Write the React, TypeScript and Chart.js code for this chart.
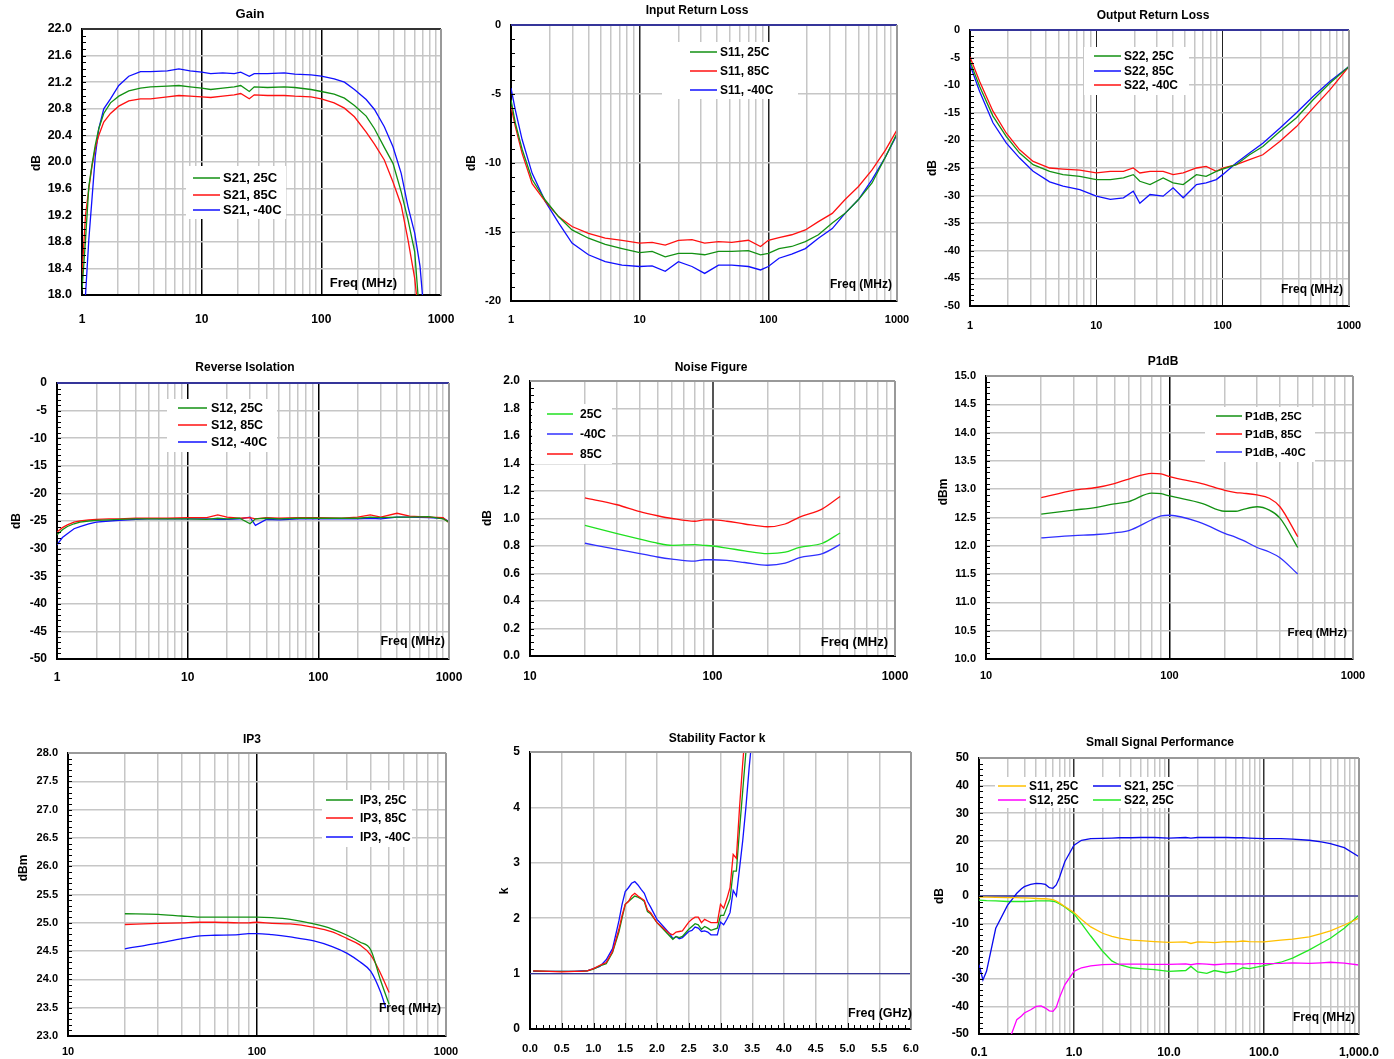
import { useEffect, useRef } from "react"
import { Chart, registerables } from "chart.js"

Chart.register(...registerables)

const FONT = "'Liberation Sans', Arial, sans-serif"
Chart.defaults.font.family = FONT

const W = 1394
const H = 1059
const Y_AXIS_W = 46
const X_AXIS_H = 40

// ---------- axis ticks ----------
const mhzDecades = [1, 10, 100, 1000]
const mhzLabels = ["1", "10", "100", "1000"]
const mhzDecades10 = [10, 100, 1000]
const mhzLabels10 = ["10", "100", "1000"]
const ssDecades = [0.1, 1, 10, 100, 1000]
const ssLabels = ["0.1", "1.0", "10.0", "100.0", "1,000.0"]
const ghzTicks = [0, 0.5, 1, 1.5, 2, 2.5, 3, 3.5, 4, 4.5, 5, 5.5, 6]
const ghzLabels = ["0.0", "0.5", "1.0", "1.5", "2.0", "2.5", "3.0", "3.5", "4.0", "4.5", "5.0", "5.5", "6.0"]

const gainTicks = [18, 18.4, 18.8, 19.2, 19.6, 20, 20.4, 20.8, 21.2, 21.6, 22]
const irlTicks = [-20, -15, -10, -5, 0]
const dB50Ticks = [-50, -45, -40, -35, -30, -25, -20, -15, -10, -5, 0]
const nfTicks = [0, 0.2, 0.4, 0.6, 0.8, 1.0, 1.2, 1.4, 1.6, 1.8, 2.0]
const p1Ticks = [10, 10.5, 11, 11.5, 12, 12.5, 13, 13.5, 14, 14.5, 15]
const ip3Ticks = [23, 23.5, 24, 24.5, 25, 25.5, 26, 26.5, 27, 27.5, 28]
const kTicks = [0, 1, 2, 3, 4, 5]
const ssTicks = [-50, -40, -30, -20, -10, 0, 10, 20, 30, 40, 50]

// ---------- Gain ----------
const gainFreq = [1.0, 1.07, 1.14, 1.21, 1.29, 1.38, 1.52, 1.73, 2.03, 2.46, 3.08, 3.74, 5.17, 6.45, 8.0, 10, 11.9, 15, 18.7, 21.2, 25, 27.5, 35.5, 49, 60, 82, 100, 128, 156, 189, 237, 278, 336, 397, 465, 530, 603, 668, 700]
const gain25 = [18.07, 18.83, 19.63, 19.95, 20.25, 20.5, 20.73, 20.89, 20.99, 21.07, 21.11, 21.13, 21.14, 21.15, 21.13, 21.11, 21.09, 21.11, 21.13, 21.15, 21.06, 21.13, 21.12, 21.13, 21.12, 21.09, 21.06, 21.02, 20.96, 20.85, 20.69, 20.5, 20.22, 19.98, 19.55, 19.13, 18.65, 17.6, 17.0]
const gain85 = [18.3, 19.2, 19.6, 19.93, 20.2, 20.4, 20.6, 20.73, 20.84, 20.92, 20.95, 20.95, 20.98, 21.0, 20.99, 20.98, 20.97, 20.99, 21.01, 21.03, 20.95, 21.01, 21.0, 21.0, 20.99, 20.98, 20.95, 20.89, 20.81, 20.68, 20.45, 20.27, 20.03, 19.7, 19.35, 18.83, 18.25, 17.5, 17.0]
const gainM40 = [17.2, 18.0, 18.83, 19.43, 20.08, 20.5, 20.8, 20.95, 21.15, 21.29, 21.36, 21.36, 21.37, 21.4, 21.37, 21.35, 21.33, 21.34, 21.33, 21.35, 21.29, 21.33, 21.33, 21.34, 21.32, 21.31, 21.29, 21.25, 21.2, 21.09, 20.94, 20.79, 20.53, 20.23, 19.83, 19.33, 18.93, 18.43, 18.0]

// ---------- Input Return Loss ----------
const irlFreq = [1, 1.08, 1.22, 1.46, 1.85, 2.35, 2.98, 4.0, 5.4, 7.3, 10, 12.5, 15.8, 20, 25.5, 32, 41, 52, 70, 87, 100, 121, 152, 194, 245, 314, 395, 502, 640, 815, 1000]
const s11_25 = [-5.42, -7.1, -9.0, -11.2, -12.7, -13.9, -14.85, -15.45, -15.9, -16.2, -16.5, -16.4, -16.8, -16.55, -16.55, -16.65, -16.4, -16.4, -16.35, -16.65, -16.55, -16.2, -16.05, -15.7, -15.2, -14.35, -13.65, -12.65, -11.45, -9.55, -7.85]
const s11_85 = [-5.9, -7.35, -9.3, -11.5, -12.8, -13.9, -14.6, -15.1, -15.45, -15.6, -15.8, -15.75, -15.95, -15.6, -15.55, -15.8, -15.7, -15.75, -15.6, -16.05, -15.6, -15.4, -15.2, -14.85, -14.25, -13.65, -12.65, -11.7, -10.5, -9.05, -7.6]
const s11_m40 = [-4.57, -6.15, -8.3, -10.75, -12.8, -14.35, -15.8, -16.65, -17.15, -17.4, -17.5, -17.45, -17.85, -17.15, -17.5, -18.0, -17.4, -17.4, -17.5, -17.75, -17.5, -16.9, -16.6, -16.2, -15.45, -14.75, -13.65, -12.65, -11.2, -9.55, -7.95]

// ---------- Output Return Loss ----------
const orlFreq = [1, 1.19, 1.52, 1.94, 2.47, 3.16, 4.27, 5.45, 7.4, 10, 12.9, 16.4, 19.6, 22.1, 26.6, 33.8, 40.5, 48.7, 62, 74, 89, 100, 128, 163, 208, 283, 384, 522, 708, 1000]
const s22_25 = [-5.7, -10.2, -15.6, -19.3, -22.3, -24.4, -25.6, -26.2, -26.5, -27.1, -27.1, -26.8, -26.2, -27.4, -28.0, -26.8, -27.7, -28.0, -26.2, -26.5, -25.6, -25.2, -24.4, -22.6, -21.1, -18.4, -15.9, -12.6, -9.6, -6.6]
const s22_85 = [-6.3, -11.1, -16.8, -20.5, -23.2, -25.6, -27.5, -28.3, -28.9, -30.1, -30.7, -30.4, -29.2, -31.4, -29.8, -30.1, -28.6, -30.4, -28.0, -27.7, -27.1, -26.2, -24.1, -22.3, -20.5, -17.8, -15.0, -12.0, -9.3, -6.6]
const s22_m40 = [-4.9, -9.3, -14.7, -18.7, -21.7, -23.8, -25.0, -25.2, -25.4, -25.9, -25.6, -25.6, -25.0, -25.9, -25.6, -25.6, -26.2, -25.9, -25.0, -24.7, -25.6, -25.0, -24.4, -23.5, -22.6, -20.2, -17.5, -14.1, -10.8, -6.6]

// ---------- Reverse Isolation ----------
const isoFreq = [1, 1.1, 1.2, 1.35, 1.5, 1.75, 2, 2.5, 3, 4, 5, 7, 10, 14, 17, 20, 25, 30, 33, 40, 50, 70, 100, 150, 200, 250, 300, 400, 500, 700, 900, 1000]
const s12_25 = [-27.5, -26.6, -26.0, -25.5, -25.2, -25.0, -24.9, -24.8, -24.7, -24.6, -24.6, -24.6, -24.6, -24.7, -24.5, -24.6, -24.5, -25.5, -24.6, -24.5, -24.6, -24.5, -24.5, -24.5, -24.5, -24.3, -24.4, -24.3, -24.3, -24.2, -24.6, -25.2]
const s12_85 = [-27.0, -26.2, -25.7, -25.2, -25.0, -24.8, -24.7, -24.6, -24.6, -24.5, -24.5, -24.5, -24.4, -24.4, -23.9, -24.3, -24.5, -24.4, -24.6, -24.4, -24.5, -24.4, -24.4, -24.5, -24.3, -23.9, -24.3, -23.6, -24.1, -24.3, -24.4, -25.3]
const s12_m40 = [-29.3, -28.0, -27.3, -26.4, -26.0, -25.5, -25.2, -25.0, -24.9, -24.7, -24.6, -24.6, -24.6, -24.6, -24.7, -24.7, -24.6, -24.3, -25.8, -24.7, -24.8, -24.6, -24.6, -24.6, -24.6, -24.5, -24.6, -24.3, -24.3, -24.4, -24.5, -25.1]

// ---------- Noise Figure ----------
const nfFreq = [20, 30, 40, 50, 60, 80, 90, 100, 120, 150, 200, 250, 300, 400, 500]
const nf25 = [0.95, 0.89, 0.85, 0.82, 0.805, 0.81, 0.805, 0.8, 0.785, 0.765, 0.745, 0.755, 0.79, 0.82, 0.895]
const nfM40 = [0.82, 0.775, 0.745, 0.72, 0.705, 0.69, 0.7, 0.7, 0.695, 0.68, 0.66, 0.675, 0.715, 0.745, 0.81]
const nf85 = [1.15, 1.1, 1.05, 1.02, 1.0, 0.98, 0.99, 0.99, 0.98, 0.96, 0.94, 0.96, 1.01, 1.07, 1.16]

// ---------- P1dB ----------
const p1Freq = [20, 30, 40, 50, 60, 80, 90, 100, 150, 200, 230, 250, 300, 350, 400, 500]
const p1_25 = [12.56, 12.63, 12.68, 12.74, 12.78, 12.93, 12.92, 12.88, 12.75, 12.61, 12.61, 12.64, 12.69, 12.63, 12.49, 11.97]
const p1_85 = [12.85, 12.98, 13.03, 13.1, 13.18, 13.28, 13.27, 13.22, 13.1, 12.98, 12.94, 12.93, 12.9, 12.84, 12.69, 12.16]
const p1_m40 = [12.14, 12.18, 12.2, 12.23, 12.27, 12.46, 12.53, 12.54, 12.4, 12.22, 12.15, 12.1, 11.97, 11.89, 11.79, 11.5]

// ---------- IP3 ----------
const ip3Freq = [20, 30, 40, 50, 60, 80, 90, 100, 120, 150, 200, 250, 300, 350, 400, 450, 500]
const ip3FreqM40 = [20, 30, 40, 50, 60, 80, 90, 100, 120, 150, 200, 250, 300, 350, 400, 450, 480]
const ip3_25 = [25.16, 25.15, 25.12, 25.1, 25.1, 25.1, 25.1, 25.1, 25.09, 25.06, 24.98, 24.89, 24.78, 24.66, 24.52, 23.99, 23.56]
const ip3_85 = [24.97, 24.99, 25.0, 25.01, 25.01, 25.0, 25.0, 25.01, 24.99, 24.98, 24.92, 24.84, 24.72, 24.61, 24.43, 24.11, 23.77]
const ip3_m40 = [24.54, 24.64, 24.72, 24.77, 24.78, 24.79, 24.81, 24.81, 24.79, 24.75, 24.68, 24.58, 24.46, 24.31, 24.14, 23.78, 23.5]

// ---------- Stability Factor k ----------
const kFreq = [0.05, 0.3, 0.5, 0.7, 0.8, 0.9, 1.0, 1.1, 1.2, 1.3, 1.4, 1.45, 1.5, 1.55, 1.6, 1.65, 1.7, 1.75, 1.8, 1.85, 1.9, 2.0, 2.1, 2.2, 2.25, 2.3, 2.35, 2.4, 2.5, 2.55, 2.6, 2.65, 2.7, 2.75, 2.8, 2.85, 2.95, 3.0, 3.05, 3.1, 3.15, 3.2, 3.25, 3.3, 3.35, 3.4, 3.45, 3.5]
const kRed = [1.05, 1.04, 1.03, 1.04, 1.04, 1.05, 1.09, 1.15, 1.2, 1.4, 1.8, 2.05, 2.25, 2.3, 2.4, 2.45, 2.4, 2.36, 2.32, 2.15, 2.1, 1.92, 1.82, 1.72, 1.7, 1.75, 1.76, 1.77, 1.93, 1.98, 2.02, 2.02, 1.92, 1.98, 1.95, 1.92, 1.92, 2.25, 2.18, 2.35, 2.55, 3.15, 3.08, 4.0, 4.8, 5.5, 6.0, 6.5]
const kGreen = [1.05, 1.04, 1.04, 1.04, 1.04, 1.05, 1.08, 1.14, 1.18, 1.38, 1.75, 2.0, 2.25, 2.3, 2.35, 2.4, 2.38, 2.35, 2.3, 2.12, 2.08, 1.92, 1.8, 1.68, 1.62, 1.67, 1.65, 1.67, 1.8, 1.85, 1.9, 1.88, 1.8, 1.85, 1.82, 1.78, 1.82, 2.05, 2.05, 2.2, 2.35, 2.85, 2.85, 3.6, 4.3, 5.0, 5.6, 6.2]
const kBlue = [1.04, 1.04, 1.04, 1.04, 1.05, 1.05, 1.09, 1.13, 1.25, 1.45, 1.95, 2.25, 2.48, 2.55, 2.63, 2.66, 2.6, 2.52, 2.45, 2.3, 2.2, 1.98, 1.85, 1.72, 1.63, 1.67, 1.63, 1.65, 1.76, 1.78, 1.84, 1.82, 1.76, 1.77, 1.75, 1.7, 1.7, 1.93, 1.88, 1.98, 2.1, 2.5, 2.4, 2.9, 3.4, 4.0, 4.7, 5.3]
const kRefX = [0, 6]
const kRefY = [1, 1]

// ---------- Small Signal Performance ----------
const ssFreq = [0.1, 0.11, 0.12, 0.15, 0.2, 0.22, 0.25, 0.28, 0.3, 0.35, 0.4, 0.45, 0.5, 0.55, 0.6, 0.65, 0.7, 0.8, 1.0, 1.2, 1.5, 2, 2.5, 3, 4, 5, 7, 10, 15, 17, 20, 25, 30, 40, 50, 60, 70, 100, 150, 200, 300, 400, 500, 700, 1000]
const ssS11 = [-0.4, -0.4, -0.4, -0.5, -0.6, -0.6, -0.6, -0.7, -0.7, -0.8, -0.9, -1.0, -1.0, -1.1, -1.3, -1.8, -2.5, -3.8, -6.0, -8.5, -11.2, -13.5, -14.6, -15.3, -16.0, -16.2, -16.5, -16.8, -16.6, -17.2, -16.6, -16.7, -16.9, -16.5, -16.6, -16.3, -16.5, -16.6, -16.0, -15.6, -14.8, -13.6, -12.6, -10.5, -8.0]
const ssS21 = [-24.9, -30.4, -27.3, -11.7, -3.3, -1.5, 1.0, 2.6, 3.4, 4.2, 4.6, 4.5, 4.2, 3.0, 2.8, 4.0, 6.5, 12.4, 18.4, 20.2, 20.8, 20.9, 21.0, 21.1, 21.1, 21.2, 21.2, 21.0, 21.2, 21.0, 21.2, 21.2, 21.2, 21.2, 21.1, 21.1, 21.0, 20.8, 20.8, 20.6, 20.2, 19.6, 19.0, 17.5, 14.2]
const ssS12 = [-60, -59, -58, -56, -52, -50, -44.8, -43.5, -42.4, -41.2, -40.0, -39.8, -40.6, -41.6, -41.8, -40.4, -37.0, -32.2, -27.3, -26.0, -25.3, -24.9, -24.8, -24.7, -24.7, -24.7, -24.8, -24.8, -24.6, -24.9, -24.5, -24.7, -24.9, -24.6, -24.5, -24.7, -24.5, -24.5, -24.4, -24.2, -24.4, -24.2, -24.0, -24.3, -25.0]
const ssS22 = [-1.5, -1.6, -1.7, -1.8, -2.0, -2.0, -2.0, -2.0, -2.0, -1.9, -1.8, -1.8, -1.8, -1.8, -1.9, -2.2, -2.8, -4.0, -6.5, -10.0, -14.5, -20.0, -23.5, -24.9, -26.0, -26.3, -26.7, -27.3, -27.0, -25.5, -27.5, -28.0, -27.0, -27.8, -27.2, -26.0, -26.3, -25.2, -24.0, -22.5, -19.5, -17.1, -15.3, -11.7, -6.9]
const ssRefX = [0.1, 1000]
const ssRefY = [0, 0]

// ---------- colours ----------
const GREEN = "#139113"
const RED = "#ff1010"
const BLUE = "#1010ff"
const LIME = "#20e020"
const NAVY = "#35359a"

const line = (label, color, xs, ys, extra = {}) => ({ label, color, xs, ys, ...extra })

const panels = [
  {
    title: "Gain", titleAt: [250, 14], titleSize: 13,
    plot: { l: 82, r: 441, t: 29, b: 295 },
    xType: "logarithmic", xMin: 1, xMax: 1000, xDecades: mhzDecades, xLabels: mhzLabels, xPad: 17, xSize: 12,
    dark: "#000", darkW: 1.5,
    yTicks: gainTicks, yDigits: 1, yMinor: 0.1, ySize: 12.5,
    yTitle: "dB", yTitleAt: [37, 163],
    freq: "Freq (MHz)", freqAt: [397, 283], freqSize: 13,
    frameTop: "#333", frameRight: "#999",
    legend: { box: [186, 166, 286, 219], cols: [[193, 220, 223]], rows: [178, 195, 210], size: 13 },
    series: [line("S21, 25C", GREEN, gainFreq, gain25), line("S21, 85C", RED, gainFreq, gain85), line("S21, -40C", BLUE, gainFreq, gainM40)],
  },
  {
    title: "Input Return Loss", titleAt: [697, 11], titleSize: 12,
    plot: { l: 511, r: 897, t: 25, b: 301 },
    xType: "logarithmic", xMin: 1, xMax: 1000, xDecades: mhzDecades, xLabels: mhzLabels, xPad: 12.5, xSize: 11,
    dark: "#222", darkW: 1.5,
    yTicks: irlTicks, yDigits: 0, yMinor: 1, ySize: 11,
    yTitle: "dB", yTitleAt: [472, 163],
    freq: "Freq (MHz)", freqAt: [892, 285], freqSize: 12,
    frameTop: NAVY, frameRight: "#999",
    legend: { box: [662, 42, 798, 99], cols: [[690, 717, 720]], rows: [52, 71, 90], size: 12 },
    series: [line("S11, 25C", GREEN, irlFreq, s11_25), line("S11, 85C", RED, irlFreq, s11_85), line("S11, -40C", BLUE, irlFreq, s11_m40)],
  },
  {
    title: "Output Return Loss", titleAt: [1153, 16], titleSize: 12,
    plot: { l: 970, r: 1349, t: 30, b: 306 },
    xType: "logarithmic", xMin: 1, xMax: 1000, xDecades: mhzDecades, xLabels: mhzLabels, xPad: 13, xSize: 11,
    dark: "#222", darkW: 1,
    yTicks: dB50Ticks, yDigits: 0, yMinor: 1, ySize: 11,
    yTitle: "dB", yTitleAt: [933, 168],
    freq: "Freq (MHz)", freqAt: [1343, 290], freqSize: 12,
    frameTop: NAVY, frameRight: "#999",
    legend: { box: [1084, 47, 1189, 95], cols: [[1094, 1121, 1124]], rows: [56, 71, 85], size: 12 },
    series: [line("S22, 25C", GREEN, orlFreq, s22_25), line("S22, 85C", BLUE, orlFreq, s22_85), line("S22, -40C", RED, orlFreq, s22_m40)],
  },
  {
    title: "Reverse Isolation", titleAt: [245, 368], titleSize: 12,
    plot: { l: 57, r: 449, t: 383, b: 659 },
    xType: "logarithmic", xMin: 1, xMax: 1000, xDecades: mhzDecades, xLabels: mhzLabels, xPad: 11, xSize: 12,
    dark: "#000", darkW: 1.5,
    yTicks: dB50Ticks, yDigits: 0, yMinor: 1, ySize: 12,
    yTitle: "dB", yTitleAt: [17, 521],
    freq: "Freq (MHz)", freqAt: [445, 642], freqSize: 12.5,
    frameTop: NAVY, frameRight: "#999",
    legend: { box: [167, 399, 277, 452], cols: [[178, 207, 211]], rows: [408, 425, 442], size: 12.5 },
    series: [line("S12, 25C", GREEN, isoFreq, s12_25), line("S12, 85C", RED, isoFreq, s12_85), line("S12, -40C", BLUE, isoFreq, s12_m40)],
  },
  {
    title: "Noise Figure", titleAt: [711, 368], titleSize: 12,
    plot: { l: 530, r: 895, t: 381, b: 656 },
    xType: "logarithmic", xMin: 10, xMax: 1000, xDecades: mhzDecades10, xLabels: mhzLabels10, xPad: 13.5, xSize: 12,
    dark: "#555", darkW: 2,
    yTicks: nfTicks, yDigits: 1, yMinor: 0.05, ySize: 12,
    yTitle: "dB", yTitleAt: [488, 518],
    freq: "Freq (MHz)", freqAt: [888, 642], freqSize: 13,
    frameTop: "#999", frameRight: "#999",
    legend: { box: [532, 404, 612, 464], cols: [[547, 573, 580]], rows: [414, 434, 454], size: 12 },
    series: [line("25C", LIME, nfFreq, nf25, { smooth: true }), line("-40C", "#3030ff", nfFreq, nfM40, { smooth: true }), line("85C", RED, nfFreq, nf85, { smooth: true })],
  },
  {
    title: "P1dB", titleAt: [1163, 362], titleSize: 12,
    plot: { l: 986, r: 1353, t: 376, b: 659 },
    xType: "logarithmic", xMin: 10, xMax: 1000, xDecades: mhzDecades10, xLabels: mhzLabels10, xPad: 10.5, xSize: 11,
    dark: "#000", darkW: 1.5,
    yTicks: p1Ticks, yDigits: 1, yMinor: 0.1, ySize: 11,
    yTitle: "dBm", yTitleAt: [944, 492],
    freq: "Freq (MHz)", freqAt: [1347, 633], freqSize: 11.5,
    frameTop: "#999", frameRight: "#999",
    legend: { box: [1205, 407, 1315, 462], cols: [[1216, 1242, 1245]], rows: [416, 434, 452], size: 11.5 },
    series: [line("P1dB, 25C", GREEN, p1Freq, p1_25, { smooth: true }), line("P1dB, 85C", RED, p1Freq, p1_85, { smooth: true }), line("P1dB, -40C", "#3030ff", p1Freq, p1_m40, { smooth: true })],
  },
  {
    title: "IP3", titleAt: [252, 740], titleSize: 12,
    plot: { l: 68, r: 446, t: 753, b: 1036 },
    xType: "logarithmic", xMin: 10, xMax: 1000, xDecades: mhzDecades10, xLabels: mhzLabels10, xPad: 9, xSize: 11,
    dark: "#000", darkW: 1.5,
    yTicks: ip3Ticks, yDigits: 1, yMinor: 0.1, ySize: 11,
    yTitle: "dBm", yTitleAt: [24, 868],
    freq: "Freq (MHz)", freqAt: [441, 1009], freqSize: 12,
    frameTop: "#999", frameRight: "#999",
    legend: { box: [322, 790, 412, 847], cols: [[326, 353, 360]], rows: [800, 818, 837], size: 12 },
    series: [line("IP3, 25C", GREEN, ip3Freq, ip3_25, { smooth: true }), line("IP3, 85C", RED, ip3Freq, ip3_85, { smooth: true }), line("IP3, -40C", BLUE, ip3FreqM40, ip3_m40, { smooth: true })],
  },
  {
    title: "Stability Factor k", titleAt: [717, 739], titleSize: 12,
    plot: { l: 530, r: 911, t: 752, b: 1029 },
    xType: "linear", xMin: 0, xMax: 6, xDecades: ghzTicks, xLabels: ghzLabels, xPad: 13, xSize: 11.5, xMinor: 0.1,
    dark: "#c6c6c6", darkW: 1.5,
    yTicks: kTicks, yDigits: 0, yMinor: 0, ySize: 12,
    yTitle: "k", yTitleAt: [505, 891],
    freq: "Freq (GHz)", freqAt: [912, 1014], freqSize: 12.5,
    frameTop: "#999", frameRight: "#999",
    legend: null,
    series: [line("k, 85C", RED, kFreq, kRed), line("k, 25C", GREEN, kFreq, kGreen), line("k, -40C", BLUE, kFreq, kBlue), line("k = 1", NAVY, kRefX, kRefY, { ref: true })],
  },
  {
    title: "Small Signal Performance", titleAt: [1160, 743], titleSize: 12,
    plot: { l: 979, r: 1359, t: 758, b: 1034 },
    xType: "logarithmic", xMin: 0.1, xMax: 1000, xDecades: ssDecades, xLabels: ssLabels, xPad: 11, xSize: 12,
    dark: "#333", darkW: 1.5,
    yTicks: ssTicks, yDigits: 0, yMinor: 2, ySize: 12,
    yTitle: "dB", yTitleAt: [940, 896],
    freq: "Freq (MHz)", freqAt: [1355, 1018], freqSize: 12,
    frameTop: "#999", frameRight: "#999",
    legend: { box: [995, 777, 1177, 808], cols: [[998, 1026, 1029], [1093, 1121, 1124]], rows: [786, 800], size: 12 },
    series: [
      line("S11, 25C", "#ffc000", ssFreq, ssS11),
      line("S21, 25C", "#0a0aee", ssFreq, ssS21),
      line("S12, 25C", "#ff00ff", ssFreq, ssS12),
      line("S22, 25C", "#22e822", ssFreq, ssS22),
      line("0 dB", NAVY, ssRefX, ssRefY, { ref: true }),
    ],
  },
]

function gridTicks(p) {
  if (p.xType !== "logarithmic") return p.xDecades.map((v, i) => ({ value: v, major: false, dark: false, label: p.xLabels[i] }))
  const out = []
  p.xDecades.forEach((d, i) => {
    out.push({ value: d, major: false, dark: true, label: p.xLabels[i] })
    if (i < p.xDecades.length - 1) for (let m = 2; m <= 9; m++) out.push({ value: d * m, major: false, dark: false, label: "" })
  })
  return out
}

function decor(p) {
  return {
    id: "decor",
    afterDraw(chart) {
      const { ctx, chartArea: a } = chart
      const bold = (s) => `bold ${s}px ${FONT}`
      const seg = (x0, y0, x1, y1) => {
        ctx.beginPath()
        ctx.moveTo(x0, y0)
        ctx.lineTo(x1, y1)
        ctx.stroke()
      }
      ctx.save()
      // minor tick marks
      ctx.strokeStyle = "#000"
      ctx.lineWidth = 1
      const ys = chart.scales.y
      if (p.yMinor) {
        const n = Math.round((p.yTicks[p.yTicks.length - 1] - p.yTicks[0]) / p.yMinor)
        for (let i = 1; i < n; i++) {
          const y = Math.round(ys.getPixelForValue(p.yTicks[0] + i * p.yMinor)) + 0.5
          seg(a.left, y, a.left + 4, y)
        }
      }
      if (p.xMinor) {
        const xs = chart.scales.x
        const n = Math.round((p.xMax - p.xMin) / p.xMinor)
        for (let i = 1; i < n; i++) {
          const x = Math.round(xs.getPixelForValue(p.xMin + i * p.xMinor)) + 0.5
          seg(x, a.bottom, x, a.bottom - (i % 5 === 0 ? 6 : 4))
        }
      }
      // frame top / right
      ctx.lineWidth = 2
      ctx.strokeStyle = p.frameTop
      seg(a.left, a.top, a.right, a.top)
      ctx.strokeStyle = p.frameRight
      seg(a.right, a.top, a.right, a.bottom)
      // legend
      if (p.legend) {
        const L = p.legend
        ctx.fillStyle = "#fff"
        ctx.fillRect(L.box[0], L.box[1], L.box[2] - L.box[0], L.box[3] - L.box[1])
        const items = p.series.filter((s) => !s.ref)
        items.forEach((s, i) => {
          const col = L.cols[i % L.cols.length]
          const y = L.rows[Math.floor(i / L.cols.length)]
          ctx.strokeStyle = s.color
          ctx.lineWidth = 1.5
          seg(col[0], y, col[1], y)
          ctx.fillStyle = "#000"
          ctx.font = bold(L.size)
          ctx.textAlign = "left"
          ctx.textBaseline = "middle"
          ctx.fillText(s.label, col[2], y + 0.5)
        })
      }
      ctx.fillStyle = "#000"
      ctx.textBaseline = "middle"
      // title
      ctx.font = bold(p.titleSize)
      ctx.textAlign = "center"
      ctx.fillText(p.title, p.titleAt[0], p.titleAt[1])
      // freq label
      ctx.font = bold(p.freqSize)
      ctx.textAlign = "right"
      ctx.fillText(p.freq, p.freqAt[0], p.freqAt[1])
      // y title
      ctx.translate(p.yTitleAt[0], p.yTitleAt[1])
      ctx.rotate(-Math.PI / 2)
      ctx.font = bold(12)
      ctx.textAlign = "center"
      ctx.fillText(p.yTitle, 0, 0)
      ctx.restore()
    },
  }
}

function PanelChart({ p }) {
  const canvasRef = useRef<HTMLCanvasElement>(null)

  useEffect(() => {
    if (!canvasRef.current) return
    const ticksFont = (s) => ({ family: FONT, size: s, weight: "bold" as const })
    const xGrid = gridTicks(p)

    const chart = new Chart(canvasRef.current, {
      type: "line",
      data: {
        datasets: p.series.map((s) => ({
          label: s.label,
          data: s.xs.map((x, i) => ({ x, y: s.ys[i] })),
          borderColor: s.color,
          backgroundColor: s.color,
          borderWidth: s.ref ? 1.3 : 1.3,
          pointRadius: 0,
          fill: false,
          tension: 0,
          cubicInterpolationMode: s.smooth ? "monotone" : "default",
        })),
      },
      options: {
        responsive: false,
        animation: false,
        events: [],
        layout: {
          padding: {
            left: p.plot.l - Y_AXIS_W,
            top: p.plot.t,
            right: W - p.plot.r,
            bottom: H - p.plot.b - X_AXIS_H,
          },
        },
        plugins: { legend: { display: false }, title: { display: false }, tooltip: { enabled: false } },
        scales: {
          x: {
            type: p.xType,
            min: p.xMin,
            max: p.xMax,
            afterBuildTicks: (s) => {
              s.ticks = xGrid.map((t) => ({ ...t }))
            },
            afterFit: (s) => {
              s.height = X_AXIS_H
            },
            ticks: {
              autoSkip: false,
              maxRotation: 0,
              minRotation: 0,
              padding: p.xPad,
              color: "#000",
              font: ticksFont(p.xSize),
              callback: (_v, i) => xGrid[i].label,
            },
            grid: {
              drawTicks: false,
              color: (c) => (c.tick && c.tick.dark ? p.dark : "#c6c6c6"),
              lineWidth: (c) => (c.tick && c.tick.dark ? p.darkW : 1.5),
            },
            border: { display: true, color: "#000", width: 2 },
          },
          y: {
            type: "linear",
            min: p.yTicks[0],
            max: p.yTicks[p.yTicks.length - 1],
            afterBuildTicks: (s) => {
              s.ticks = p.yTicks.map((v) => ({ value: v }))
            },
            afterFit: (s) => {
              s.width = Y_AXIS_W
            },
            ticks: {
              padding: 10,
              color: "#000",
              font: ticksFont(p.ySize),
              callback: (v) => Number(v).toFixed(p.yDigits),
            },
            grid: { drawTicks: false, color: "#c6c6c6", lineWidth: 1.5 },
            border: { display: true, color: "#000", width: 2 },
          },
        },
      },
      plugins: [decor(p)],
    })

    return () => chart.destroy()
  }, [p])

  return <canvas ref={canvasRef} width={W} height={H} style={{ position: "absolute", left: 0, top: 0 }} />
}

export default function App() {
  return (
    <div style={{ position: "absolute", left: 0, top: 0, width: W, height: H, background: "#fff", overflow: "hidden" }}>
      {panels.map((p, i) => (
        <PanelChart key={i} p={p} />
      ))}
    </div>
  )
}
